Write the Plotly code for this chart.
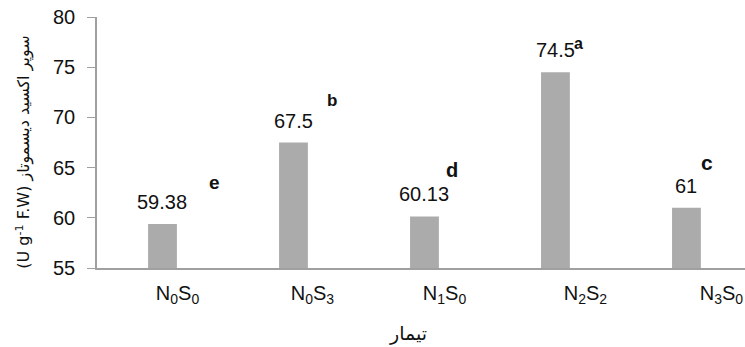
import plotly.graph_objects as go

categories = ["N<sub>0</sub>S<sub>0</sub>", "N<sub>0</sub>S<sub>3</sub>", "N<sub>1</sub>S<sub>0</sub>",
              "N<sub>2</sub>S<sub>2</sub>", "N<sub>3</sub>S<sub>0</sub>"]
values = [59.38, 67.5, 60.13, 74.5, 61]
value_labels = ["59.38", "67.5", "60.13", "74.5", "61"]
letters = ["e", "b", "d", "a", "c"]
y_title = "(U g<sup>-1</sup> F.W) سوپر اکسید دیسموتاز"
x_title = "تیمار"

# style: offsets (pixels / axis units) of letters and category labels
letter_dx = [52, 39, 28, 23, 21]
letter_dy = [42, 42, 46, 29, 45]
letter_size = [19, 17, 20, 16, 21]
label_offset = [0.115, 0.145, 0.153, 0.229, 0.267]

xs = list(range(len(categories)))
fig = go.Figure()
fig.add_trace(go.Bar(x=xs, y=values, width=0.22, marker=dict(color="#ababab", line=dict(width=0)),
                     showlegend=False, hoverinfo="skip"))

for i, v in enumerate(values):
    fig.add_annotation(x=xs[i], y=v, text=value_labels[i], showarrow=False, yanchor="middle",
                       yshift=22, font=dict(size=20, color="#111", family="Liberation Sans, Arial"))
    fig.add_annotation(x=xs[i], y=v, text="<b>%s</b>" % letters[i], showarrow=False, yanchor="middle",
                       xshift=letter_dx[i], yshift=letter_dy[i],
                       font=dict(size=letter_size[i], color="#111", family="Liberation Sans, Arial"))

fig.add_annotation(xref="paper", yref="paper", x=-0.113, y=0.462, text=y_title, textangle=-90,
                   showarrow=False, xanchor="center", yanchor="middle",
                   font=dict(size=16, color="#111", family="DejaVu Sans, Noto Sans"))
fig.add_annotation(xref="paper", yref="paper", x=0.48, y=-0.262, text=x_title,
                   showarrow=False, xanchor="center", yanchor="middle",
                   font=dict(size=19, color="#111", family="DejaVu Sans, Noto Sans"))

fig.update_layout(
    width=745, height=347,
    margin=dict(l=97, r=0, t=17, b=79),
    plot_bgcolor="white", paper_bgcolor="white",
    xaxis=dict(range=[-0.5, 4.447], tickmode="array",
               tickvals=[xs[i] + label_offset[i] for i in xs], ticktext=categories,
               showline=True, linecolor="#a0a0a0", linewidth=1.5, ticks="", showgrid=False,
               tickfont=dict(size=20, color="#111", family="Liberation Sans, Arial"),
               ticklabelstandoff=6),
    yaxis=dict(range=[55, 80], tickvals=[55, 60, 65, 70, 75, 80], showgrid=False,
               showline=True, linecolor="#a0a0a0", linewidth=1.5, ticks="outside", ticklen=8,
               tickcolor="#a0a0a0", zeroline=False,
               tickfont=dict(size=20, color="#111", family="Liberation Sans, Arial"),
               ticklabelstandoff=8),
)
fig.write_html("out.html", config={"displayModeBar": False},
               post_script="document.body.style.margin='0';document.body.style.padding='0';")
